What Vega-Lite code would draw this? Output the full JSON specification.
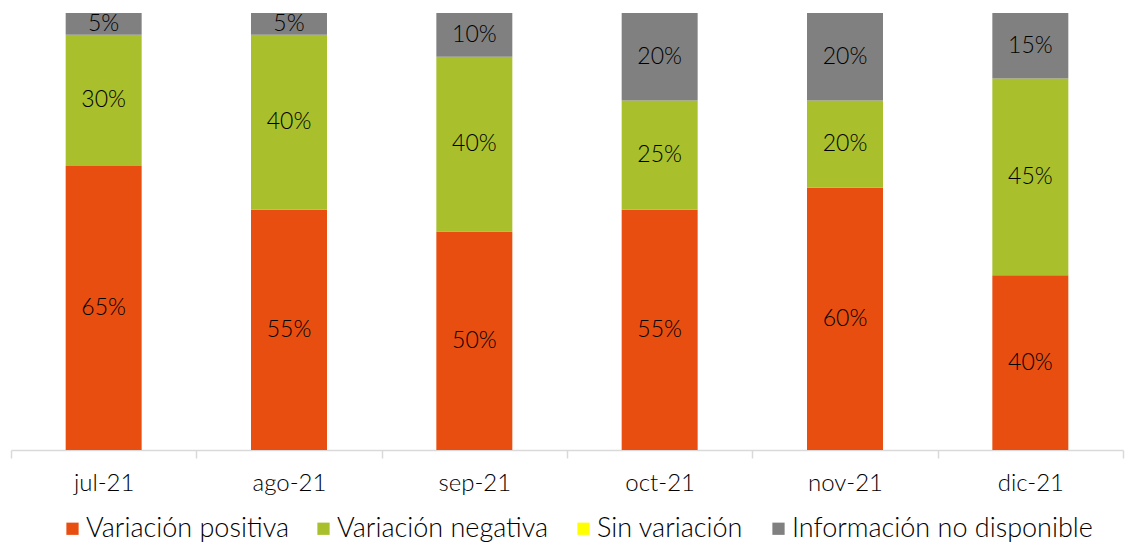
{
  "$schema": "https://vega.github.io/schema/vega-lite/v6.json",
  "width": 1112,
  "height": 437,
  "autosize": "none",
  "padding": {"left": 11, "top": 13, "right": 5, "bottom": 94},
  "background": "white",
  "config": {"view": {"stroke": null}, "font": "Lato"},
  "data": {"values": [
    {"mes": "jul-21", "cat": "Variación positiva", "ord": 1, "v": 0.65},
    {"mes": "jul-21", "cat": "Variación negativa", "ord": 2, "v": 0.30},
    {"mes": "jul-21", "cat": "Información no disponible", "ord": 4, "v": 0.05},
    {"mes": "ago-21", "cat": "Variación positiva", "ord": 1, "v": 0.55},
    {"mes": "ago-21", "cat": "Variación negativa", "ord": 2, "v": 0.40},
    {"mes": "ago-21", "cat": "Información no disponible", "ord": 4, "v": 0.05},
    {"mes": "sep-21", "cat": "Variación positiva", "ord": 1, "v": 0.50},
    {"mes": "sep-21", "cat": "Variación negativa", "ord": 2, "v": 0.40},
    {"mes": "sep-21", "cat": "Información no disponible", "ord": 4, "v": 0.10},
    {"mes": "oct-21", "cat": "Variación positiva", "ord": 1, "v": 0.55},
    {"mes": "oct-21", "cat": "Variación negativa", "ord": 2, "v": 0.25},
    {"mes": "oct-21", "cat": "Información no disponible", "ord": 4, "v": 0.20},
    {"mes": "nov-21", "cat": "Variación positiva", "ord": 1, "v": 0.60},
    {"mes": "nov-21", "cat": "Variación negativa", "ord": 2, "v": 0.20},
    {"mes": "nov-21", "cat": "Información no disponible", "ord": 4, "v": 0.20},
    {"mes": "dic-21", "cat": "Variación positiva", "ord": 1, "v": 0.40},
    {"mes": "dic-21", "cat": "Variación negativa", "ord": 2, "v": 0.45},
    {"mes": "dic-21", "cat": "Información no disponible", "ord": 4, "v": 0.15}
  ]},
  "transform": [
    {"stack": "v", "groupby": ["mes"], "sort": [{"field": "ord"}], "as": ["y0", "y1"]},
    {"calculate": "(datum.y0 + datum.y1) / 2", "as": "ymid"}
  ],
  "encoding": {
    "x": {
      "field": "mes", "type": "nominal", "sort": null,
      "scale": {"paddingInner": 0, "paddingOuter": 0},
      "axis": {
        "title": null, "labelAngle": 0, "labelFontSize": 24, "labelColor": "#000000",
        "labelPadding": 13, "domainColor": "#d9d9d9", "domainWidth": 1.5,
        "tickColor": "#d9d9d9", "tickWidth": 1.5, "tickSize": 8, "tickBand": "extent",
        "labelFont": "Lato", "labelFontWeight": 300
      }
    }
  },
  "layer": [
    {
      "mark": {"type": "bar", "width": {"band": 0.41}},
      "encoding": {
        "y": {"field": "y0", "type": "quantitative", "scale": {"domain": [0, 1]}, "axis": null},
        "y2": {"field": "y1"},
        "color": {
          "field": "cat", "type": "nominal",
          "scale": {
            "domain": ["Variación positiva", "Variación negativa", "Sin variación", "Información no disponible"],
            "range": ["#E84E10", "#A9BF2B", "#FFFF00", "#808080"]
          },
          "legend": {
            "title": null, "orient": "none", "legendX": 48, "legendY": 502,
            "direction": "horizontal", "columns": 4, "symbolType": "square",
            "symbolSize": 150, "symbolStrokeWidth": 0, "labelFontSize": 27, "labelColor": "#000000",
            "columnPadding": 21, "labelOffset": 0, "labelFont": "Lato", "labelFontWeight": 300,
            "labelLimit": 0
          }
        }
      }
    },
    {
      "mark": {"type": "text", "fontSize": 23, "color": "#000000", "baseline": "middle", "font": "Lato", "fontWeight": 300},
      "encoding": {
        "y": {"field": "ymid", "type": "quantitative", "scale": {"domain": [0, 1]}},
        "text": {"field": "v", "type": "quantitative", "format": ".0%"}
      }
    }
  ]
}
